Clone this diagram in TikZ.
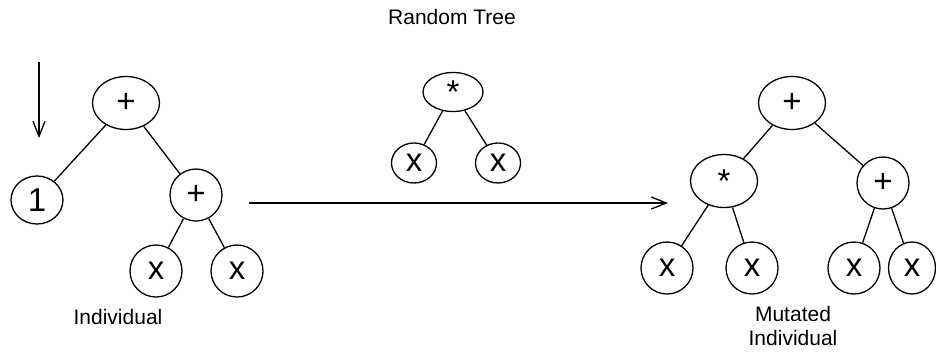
\documentclass[tikz,border=0pt]{standalone}
\usepackage{fontspec}
\setmainfont{Liberation Sans}
\usetikzlibrary{shapes.geometric,arrows.meta}
\begin{document}
\begin{tikzpicture}[x=1pt,y=-1pt,
  line width=1.3pt,
  treenode/.style={draw,ellipse,inner sep=0pt,font=\fontsize{33}{33}\selectfont},
  leaf/.style={treenode,minimum width=52pt,minimum height=52pt},
  opnode/.style={treenode,minimum width=67pt,minimum height=53pt},
  smallop/.style={treenode,minimum width=60pt,minimum height=39pt},
  smallleaf/.style={treenode,minimum width=45pt,minimum height=40pt},
  caption/.style={font=\fontsize{21}{24}\selectfont,align=center},
  edge/.style={draw,line width=1.3pt},
  flow/.style={draw,line width=1.3pt,-{Straight Barb[length=15pt,width=12pt,line width=1.3pt]}}]
\useasboundingbox (0,0) rectangle (936,351);

% original individual
\node[opnode] (a) at (126,103) {+};
\node[leaf,minimum height=48pt] (a1) at (37,200) {1};
\node[leaf] (a2) at (196,195) {+};
\node[leaf] (a3) at (156,271) {x};
\node[leaf] (a4) at (237,271) {x};
\draw[edge] (a) -- (a1);
\draw[edge] (a) -- (a2);
\draw[edge] (a2) -- (a3);
\draw[edge] (a2) -- (a4);
\node[caption] (lblA) at (118,317) {Individual};

% random subtree
\node[caption] (lblR) at (452,17) {Random Tree};
\node[smallop] (r) at (453,92) {*};
\node[smallleaf] (r1) at (414,163) {x};
\node[smallleaf] (r2) at (498,163) {x};
\draw[edge] (r) -- (r1);
\draw[edge] (r) -- (r2);

% mutated individual
\node[opnode] (m) at (792,103) {+};
\node[opnode] (m1) at (724,181) {*};
\node[leaf] (m2) at (883,183) {+};
\node[leaf] (m3) at (667,268) {x};
\node[leaf] (m4) at (752,268) {x};
\node[leaf] (m5) at (854,268) {x};
\node[leaf,minimum width=47pt] (m6) at (912,268) {x};
\draw[edge] (m) -- (m1);
\draw[edge] (m) -- (m2);
\draw[edge] (m1) -- (m3);
\draw[edge] (m1) -- (m4);
\draw[edge] (m2) -- (m5);
\draw[edge] (m2) -- (m6);
\node[caption] (lblM) at (793,326) {Mutated\\Individual};

% arrows
\coordinate (vs) at (39,62);
\coordinate (ve) at (39,138);
\draw[flow] (vs) -- (ve);
\coordinate (hs) at (249,203);
\coordinate (he) at (668,203);
\draw[flow] (hs) -- (he);
\end{tikzpicture}
\end{document}
